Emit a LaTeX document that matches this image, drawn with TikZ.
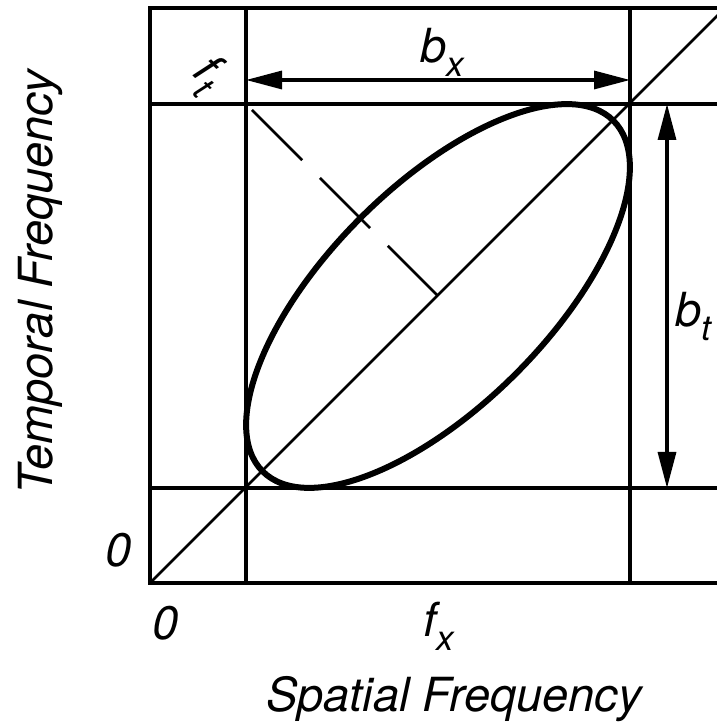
\documentclass[tikz,border=0pt]{standalone}
\usepackage{fontspec}
\setmainfont{TeX Gyre Heros}
\usetikzlibrary{arrows.meta}
\newcommand{\mysub}[1]{\raisebox{-14pt}{\fontsize{35}{35}\selectfont #1}}
\tikzset{
  gridline/.style={line width=3.3pt},
  thinline/.style={line width=2.7pt},
  dimarrow/.style={line width=3.3pt,{Triangle[length=36pt,width=18pt]}-{Triangle[length=36pt,width=18pt]}},
  lbl/.style={inner sep=0pt,font=\fontsize{47}{50}\selectfont\itshape}
}
\begin{document}
\begin{tikzpicture}[x=1pt,y=1pt]
\useasboundingbox (0,0) rectangle (717,723);
\clip (0,0) rectangle (717,723);
% grid lines
\draw[gridline] (720,715) -- (150,715) -- (150,140) -- (720,140);
\draw[gridline] (246,715) -- (246,140);
\draw[gridline] (630,715) -- (630,140);
\draw[gridline] (150,619) -- (720,619);
\draw[gridline] (150,235) -- (720,235);
% diagonal
\coordinate (o) at (150,140);
\coordinate (d) at (730,720);
\draw[thinline] (o) -- (d);
% ellipse
\coordinate (c) at (438,427);
\draw[line width=6pt,rotate around={45:(c)}] (c) ellipse [x radius=248, y radius=110];
% dashed minor axis
\coordinate (m) at (252,613);
\draw[thinline,dash pattern=on 71pt off 25pt] (m) -- (c);
% dimension arrows
\coordinate (bxl) at (246,643);
\coordinate (bxr) at (630,643);
\draw[dimarrow] (bxl) -- (bxr);
\coordinate (btt) at (667,619);
\coordinate (btb) at (667,235);
\draw[dimarrow] (btt) -- (btb);
% labels
\node[lbl,anchor=base west] (bx) at (420,660) {b\mysub{x}};
\node[lbl,anchor=base west] (bt) at (675,396) {b\mysub{t}};
\node[lbl,anchor=base west] (fx) at (423,86) {f\mysub{x}};
\node[lbl,rotate=-45] (ft) at (207,648) {f\mysub{t}};
\node[lbl] (z1) at (166,100) {0};
\node[lbl] (z2) at (119,173) {0};
\node[lbl,anchor=base] (sf) at (454,11) {Spatial Frequency};
\node[lbl,anchor=base,rotate=90] (tf) at (52,441) {Temporal Frequency};
\end{tikzpicture}
\end{document}
